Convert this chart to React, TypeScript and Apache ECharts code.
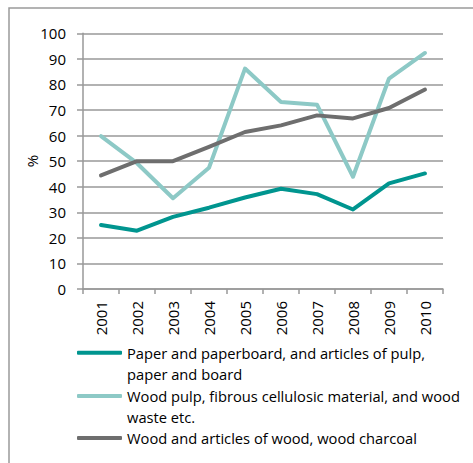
import React, { useEffect, useRef } from "react";
import * as echarts from "echarts";

const years = ["2001", "2002", "2003", "2004", "2005", "2006", "2007", "2008", "2009", "2010"];
const paperValues = [25, 22.8, 28.2, 31.8, 35.8, 39.2, 37.1, 31.1, 41.3, 45.2];
const pulpValues = [59.8, 49.2, 35.5, 47.4, 86.2, 73.1, 72.1, 43.9, 82.3, 92.3];
const woodValues = [44.4, 50, 50, 55.6, 61.4, 64, 67.9, 66.7, 70.8, 78];

const paperName = "Paper and paperboard, and articles of pulp, paper and board";
const pulpName = "Wood pulp, fibrous cellulosic material, and wood waste etc.";
const woodName = "Wood and articles of wood, wood charcoal";

// Wrapped legend labels; a leading blank line keeps the icon level with the first line
const legendLines: Record<string, string> = {
  [paperName]: "\nPaper and paperboard, and articles of pulp,\npaper and board",
  [pulpName]: "\nWood pulp, fibrous cellulosic material, and wood\nwaste etc.",
  [woodName]: "Wood and articles of wood, wood charcoal",
};

const FONT = "'Open Sans', sans-serif";
const FONT_SIZE = 15;
const LEGEND_FONT_SIZE = 14.7;
const TEXT_COLOR = "#000000";
const LINE_H = 21.3;

function legendFor(name: string, top: number) {
  return {
    show: true,
    data: [name],
    left: 77,
    top,
    padding: 0,
    orient: "vertical",
    itemWidth: 45,
    itemHeight: 4,
    icon: "roundRect",
    selectedMode: false,
    formatter: (n: string) => legendLines[n],
    textStyle: {
      fontFamily: FONT,
      fontSize: LEGEND_FONT_SIZE,
      color: TEXT_COLOR,
      lineHeight: LINE_H,
    },
  };
}

export default function App() {
  const ref = useRef<HTMLDivElement>(null);

  useEffect(() => {
    if (!ref.current) return;
    const chart = echarts.init(ref.current, null, { renderer: "svg" });
    const mkSeries = (name: string, data: number[], color: string) => ({
      name,
      type: "line",
      data,
      symbol: "none",
      lineStyle: { color, width: 4, cap: "round", join: "round" },
      itemStyle: { color },
    });
    chart.setOption({
      animation: false,
      backgroundColor: "#ffffff",
      graphic: [
        {
          type: "rect",
          shape: { x: 9, y: 8, width: 600, height: 600 },
          style: { fill: "none", stroke: "#9a9a9a", lineWidth: 1.5 },
          z: -1,
        },
      ],
      grid: { left: 83, right: 30, top: 33.3, bottom: 174, containLabel: false },
      xAxis: {
        type: "category",
        data: years,
        boundaryGap: true,
        axisLine: { lineStyle: { color: "#999999", width: 1.5 } },
        axisTick: { show: true, length: 5, alignWithLabel: false, lineStyle: { color: "#999999", width: 1.5 } },
        axisLabel: {
          rotate: 90,
          margin: 12,
          fontFamily: FONT,
          fontSize: FONT_SIZE,
          color: TEXT_COLOR,
        },
      },
      yAxis: {
        type: "value",
        min: 0,
        max: 100,
        interval: 10,
        name: "%",
        nameLocation: "middle",
        nameGap: 44,
        nameRotate: 90,
        nameMoveOverlap: false,
        nameTextStyle: { fontFamily: FONT, fontSize: FONT_SIZE, color: TEXT_COLOR },
        axisLine: { show: true, lineStyle: { color: "#999999", width: 1.5 } },
        axisTick: { show: true, length: 6, lineStyle: { color: "#999999", width: 1.5 } },
        splitLine: { show: true, lineStyle: { color: "#999999", width: 1.5 } },
        axisLabel: { margin: 17, fontFamily: FONT, fontSize: FONT_SIZE, color: TEXT_COLOR },
      },
      legend: [
        legendFor(paperName, 320.7),
        legendFor(pulpName, 364),
        legendFor(woodName, 427.3),
      ],
      series: [
        mkSeries(paperName, paperValues, "#00958F"),
        mkSeries(pulpName, pulpValues, "#8DC9C6"),
        mkSeries(woodName, woodValues, "#6E6E6E"),
      ],
    });
    return () => chart.dispose();
  }, []);

  return (
    <div
      ref={ref}
      style={{ position: "fixed", left: 0, top: 0, width: 473, height: 463 }}
    />
  );
}
